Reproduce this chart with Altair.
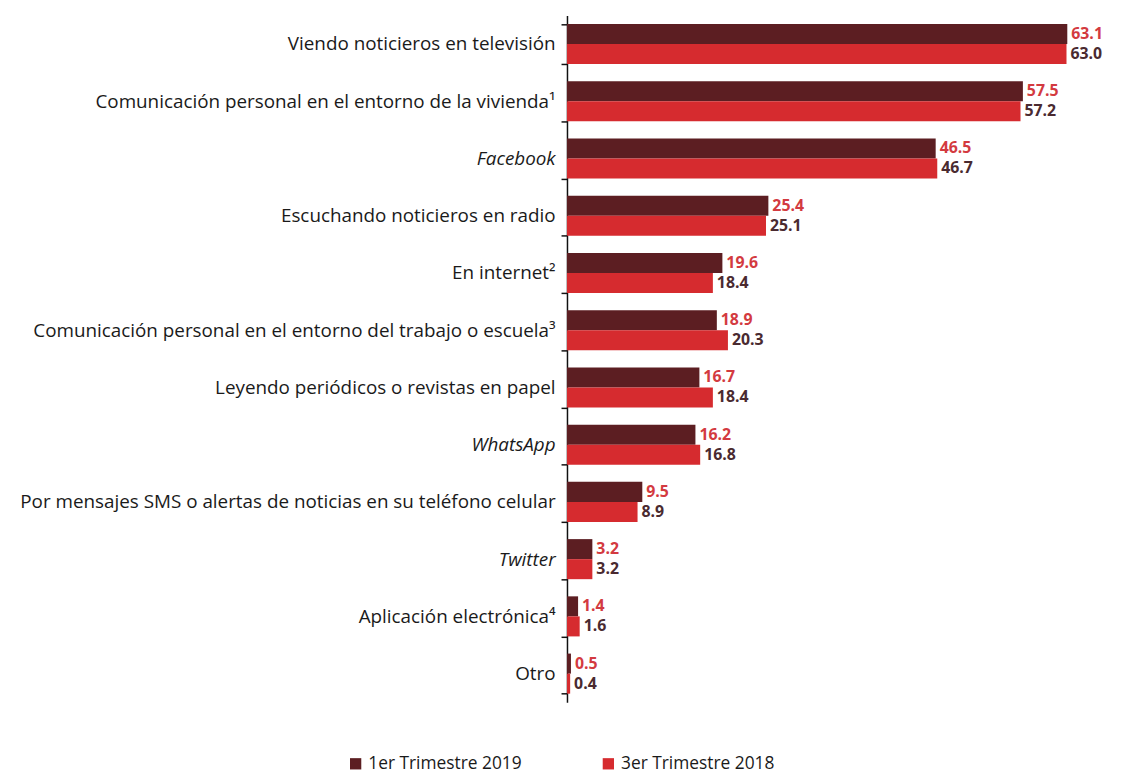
import altair as alt
import pandas as pd

categories = [
    "Viendo noticieros en televisión",
    "Comunicación personal en el entorno de la vivienda¹",
    "Facebook ",
    "Escuchando noticieros en radio",
    "En internet²",
    "Comunicación personal en el entorno del trabajo o escuela³",
    "Leyendo periódicos o revistas en papel",
    "WhatsApp ",
    "Por mensajes SMS o alertas de noticias en su teléfono celular",
    "Twitter ",
    "Aplicación electrónica⁴",
    "Otro",
]
series_names = ["1er Trimestre 2019", "3er Trimestre 2018"]
values_2019 = [63.1, 57.5, 46.5, 25.4, 19.6, 18.9, 16.7, 16.2, 9.5, 3.2, 1.4, 0.5]
values_2018 = [63.0, 57.2, 46.7, 25.1, 18.4, 20.3, 18.4, 16.8, 8.9, 3.2, 1.6, 0.4]
italic_labels = ["Facebook ", "WhatsApp ", "Twitter "]

rows = []
for c, a, b in zip(categories, values_2019, values_2018):
    rows.append({"cat": c, "serie": series_names[0], "valor": a})
    rows.append({"cat": c, "serie": series_names[1], "valor": b})
df = pd.DataFrame(rows)

DARK = "#5C1E22"
RED = "#D62B2F"
FONT = "Open Sans"

italic_test = " || ".join([f"datum.value === '{l}'" for l in italic_labels])

y_enc = alt.Y(
    "cat:N",
    sort=categories,
    scale=alt.Scale(paddingInner=0.3, paddingOuter=0.15),
    axis=alt.Axis(
        title=None,
        domainColor="#111111",
        domainWidth=1.5,
        tickColor="#111111",
        tickWidth=1.5,
        tickSize=6,
        tickBand="extent",
        labelPadding=6,
        labelLimit=0,
        labelFont=FONT,
        labelFontSize=19,
        labelColor="#1a1a1a",
        labelFontStyle=alt.ConditionalAxisLabelFontStyle(
            condition={"test": italic_test, "value": "italic"}, value="normal"
        ),
    ),
)
yoff = alt.YOffset("serie:N", sort=series_names)
x_enc = alt.X("valor:Q", scale=alt.Scale(domain=[0, 67.5], nice=False), axis=None)

bars = alt.Chart(df).mark_bar().encode(
    y=y_enc,
    yOffset=yoff,
    x=x_enc,
    color=alt.Color(
        "serie:N",
        sort=series_names,
        scale=alt.Scale(domain=series_names, range=[DARK, RED]),
        legend=alt.Legend(
            title=None,
            orient="none",
            legendX=-222,
            legendY=746,
            direction="horizontal",
            columns=2,
            columnPadding=78,
            symbolType="square",
            symbolSize=130,
            symbolStrokeWidth=0,
            labelFont=FONT,
            labelFontSize=17.5,
            labelColor="#1a1a1a",
            symbolOffset=0,
        ),
    ),
)

labels = alt.Chart(df).mark_text(
    align="left", baseline="middle", dx=4, font=FONT, fontSize=16, fontWeight="bold"
).encode(
    y=alt.Y("cat:N", sort=categories),
    yOffset=yoff,
    x=x_enc,
    text=alt.Text("valor:Q", format=".1f"),
    color=alt.condition(
        alt.datum.serie == series_names[0], alt.value("#D33A40"), alt.value("#4A2A30")
    ),
)

chart = (
    alt.layer(bars, labels)
    .properties(
        width=540,
        height=693,
        background="white",
        autosize=alt.AutoSizeParams(type="none"),
        padding={"left": 564, "top": 4, "right": 20, "bottom": 75},
    )
    .configure_view(strokeWidth=0, stroke=None)
)

chart.save("out.html", embed_options={"renderer": "svg", "actions": False})
